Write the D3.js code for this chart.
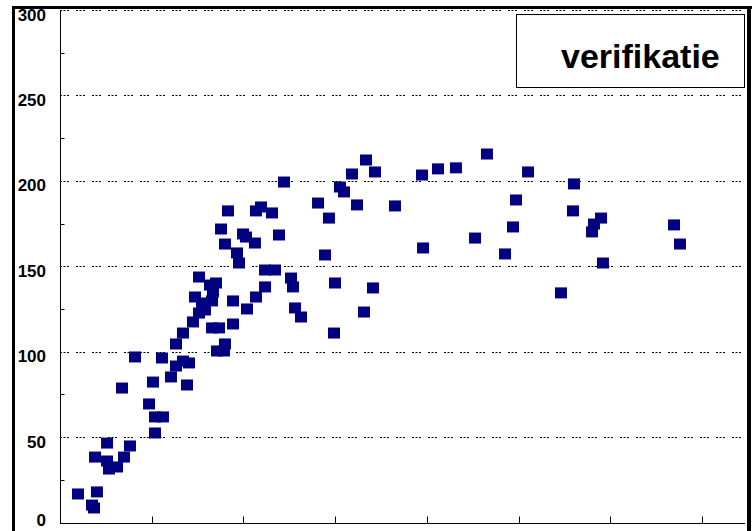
<!DOCTYPE html>
<html>
<head>
<meta charset="utf-8">
<script src="https://cdn.jsdelivr.net/npm/d3@7"></script>
<style>
  body { margin: 0; background: #fff; }
  svg { display: block; }
</style>
</head>
<body>
<svg id="chart"></svg>
<script>
// values
const seriesName = 'verifikatie';
const xValues = [
  1.96, 4.03, 3.49, 3.71, 5.13, 3.82, 5.13, 5.34, 6.22, 6.98,
  7.63, 6.76, 8.18, 9.71, 10.36, 11.23, 10.36, 10.14, 11.12, 12.10,
  12.65, 13.41, 14.07, 13.85, 12.65, 13.41, 14.50, 15.16, 15.81, 15.49,
  16.58, 14.72, 16.68, 16.36, 17.01, 15.16, 16.58, 17.34, 18.87, 17.99,
  17.12, 17.88, 18.87, 20.39, 21.37, 22.36, 22.36, 23.45, 25.19, 25.41,
  25.63, 26.28, 18.32, 17.56, 17.99, 19.30, 19.52, 19.96, 20.28, 21.26,
  21.37, 21.92, 23.12, 23.88, 24.43, 28.14, 29.33, 28.90, 30.53, 30.97,
  31.84, 33.37, 34.35, 32.39, 36.53, 29.99, 34.13, 33.15, 29.88, 39.48,
  41.22, 43.18, 46.56, 51.04, 49.73, 49.40, 45.26, 48.53, 39.59, 56.05,
  55.94, 59.00, 58.23, 58.02, 66.96, 67.61, 59.21, 54.63
];
const yValues = [
  16.7, 17.9, 10.2, 8.5, 46.5, 38.3, 36.0, 31.3, 32.5, 38.3,
  44.8, 78.7, 96.9, 69.4, 61.8, 61.8, 52.4, 82.2, 96.3, 85.2,
  91.6, 94.5, 93.4, 80.5, 104.5, 110.9, 117.4, 122.6, 124.4, 128.5,
  129.7, 132.0, 134.9, 139.0, 140.2, 143.7, 113.9, 113.9, 116.2, 104.5,
  100.4, 100.4, 129.7, 125.0, 132.0, 137.9, 147.8, 147.8, 143.1, 137.9,
  125.6, 120.3, 182.4, 171.8, 163.0, 157.8, 151.9, 168.9, 167.1, 163.6,
  182.4, 184.7, 181.2, 168.3, 199.3, 187.0, 178.2, 156.6, 196.4, 193.5,
  204.0, 212.2, 205.2, 185.9, 185.3, 140.2, 137.3, 123.2, 110.9, 203.4,
  207.0, 207.6, 215.7, 205.2, 188.8, 173.0, 166.5, 157.2, 160.7, 198.2,
  182.4, 178.2, 174.7, 170.1, 174.2, 163.0, 151.9, 134.4
];
const yTicks = [0, 50, 100, 150, 200, 250, 300];
const yMinorTicks = [25, 75, 125, 175, 225, 275];
const xTicks = [10, 20, 30, 40, 50, 60, 70];

const width = 755, height = 531;
const svg = d3.select('#chart').attr('width', width).attr('height', height);

const x = d3.scaleLinear().domain([0, 74.7]).range([60, 745]);
const y = d3.scaleLinear().domain([0, 300]).range([522.5, 10]);

const points = xValues.map((v, i) => ({ x: v, y: yValues[i] }));

// dotted grid
svg.append('g')
  .selectAll('line')
  .data(yTicks.slice(1))
  .join('line')
  .attr('x1', 60).attr('x2', 743)
  .attr('y1', d => Math.round(y(d)) + 0.5)
  .attr('y2', d => Math.round(y(d)) + 0.5)
  .attr('stroke', '#000')
  .attr('stroke-width', 1)
  .attr('stroke-dasharray', '2,1.5,2,1.5,2,7');

// y axis
const yAxis = svg.append('g').attr('transform', 'translate(60.5,0)');
yAxis.append('line').attr('y1', 10).attr('y2', 523).attr('stroke', '#000');
yAxis.selectAll('.minor')
  .data(yMinorTicks)
  .join('line')
  .attr('class', 'minor')
  .attr('x1', 0).attr('x2', 4)
  .attr('y1', d => Math.round(y(d)) + 0.5)
  .attr('y2', d => Math.round(y(d)) + 0.5)
  .attr('stroke', '#000');
svg.append('g')
  .selectAll('text')
  .data(yTicks)
  .join('text')
  .attr('x', 46)
  // keep the bottom label inside the picture
  .attr('y', d => Math.min(y(d) + 10.5, 526))
  .attr('text-anchor', 'end')
  .attr('font-family', 'Liberation Sans, Arial, sans-serif')
  .attr('font-weight', 'bold')
  .attr('font-size', 17)
  .text(d => d);

// x axis
const xAxis = svg.append('g').attr('transform', 'translate(0,523.5)');
xAxis.append('line').attr('x1', 60).attr('x2', 745).attr('stroke', '#000');
xAxis.selectAll('.tick')
  .data(xTicks)
  .join('line')
  .attr('class', 'tick')
  .attr('x1', d => Math.round(x(d)) + 0.5)
  .attr('x2', d => Math.round(x(d)) + 0.5)
  .attr('y1', 0).attr('y2', -7)
  .attr('stroke', '#000');

// points
const mw = 12, mh = 11;
svg.append('g')
  .selectAll('rect')
  .data(points)
  .join('rect')
  .attr('x', d => x(d.x) - mw / 2)
  .attr('y', d => y(d.y) - mh / 2)
  .attr('width', mw)
  .attr('height', mh)
  .attr('fill', '#000080');

// legend box
svg.append('rect')
  .attr('x', 516.5).attr('y', 14.5)
  .attr('width', 228).attr('height', 73)
  .attr('fill', '#fff')
  .attr('stroke', '#000');
svg.append('text')
  .attr('x', 561).attr('y', 68)
  .attr('font-family', 'Liberation Sans, Arial, sans-serif')
  .attr('font-weight', 'bold')
  .attr('font-size', 34)
  .text(seriesName);

// outer frame (cuts off top of the 300 label)
svg.append('rect').attr('x', 0).attr('y', 0).attr('width', width).attr('height', 7).attr('fill', '#fff');
svg.append('rect').attr('x', 12).attr('y', 6).attr('width', 740).attr('height', 3).attr('fill', '#000');
svg.append('rect').attr('x', 12).attr('y', 6).attr('width', 3).attr('height', height).attr('fill', '#000');
svg.append('rect').attr('x', 747).attr('y', 6).attr('width', 4).attr('height', height).attr('fill', '#000');
</script>
</body>
</html>
